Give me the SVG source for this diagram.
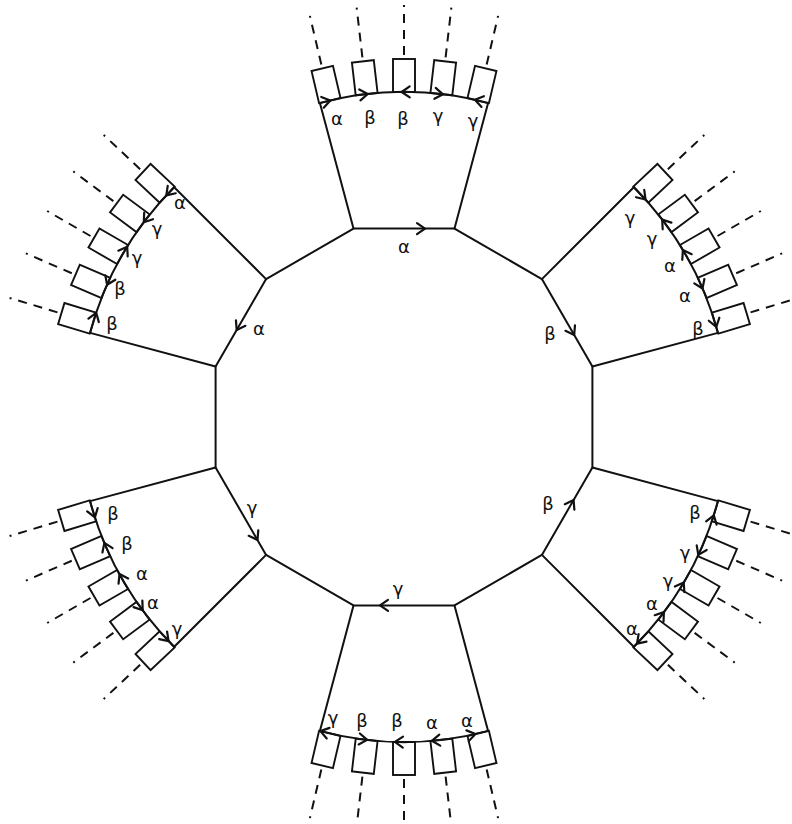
<svg xmlns="http://www.w3.org/2000/svg" xmlns:xlink="http://www.w3.org/1999/xlink" width="792" height="824" viewBox="0 0 792 824">
<style>
.ln{fill:none;stroke:#111;stroke-width:2;stroke-linecap:round;stroke-linejoin:round}
.rc{fill:#fff;stroke:#111;stroke-width:1.9}
.ds{stroke:#111;stroke-width:2;stroke-dasharray:9 7}
.ah{fill:none;stroke:#111;stroke-width:2.2;stroke-linecap:round;stroke-linejoin:round}
.lb{font-family:"DejaVu Sans",sans-serif;font-size:18px;fill:#111;text-anchor:middle;dominant-baseline:central}
</style>
<defs>
<path id="ah" class="ah" d="M-8,-5.5 L0,0 L-8,5.5"/>
</defs>
<rect width="792" height="824" fill="#fff"/>

<g id="polygon">
<polygon class="ln" points="353.5,228.6 454.5,228.6 541.9,279.1 592.4,366.5 592.4,467.5 541.9,554.9 454.5,605.4 353.5,605.4 266.1,554.9 215.6,467.5 215.6,366.5 266.1,279.1"/>
<use href="#ah" transform="translate(425 228.6) rotate(0)"/>
<use href="#ah" transform="translate(574.2 335) rotate(60)"/>
<use href="#ah" transform="translate(573.6 500) rotate(-60)"/>
<use href="#ah" transform="translate(380 605.4) rotate(180)"/>
<use href="#ah" transform="translate(257.5 540) rotate(60)"/>
<use href="#ah" transform="translate(236.7 330) rotate(120)"/>
<text class="lb" x="404" y="246">α</text>
<text class="lb" x="550" y="333">β</text>
<text class="lb" x="548" y="503">β</text>
<text class="lb" x="398" y="588">γ</text>
<text class="lb" x="252" y="507">γ</text>
<text class="lb" x="259" y="328">α</text>
</g>

<g id="flap-top">
<path class="ln" d="M353.5,228.6 L319.9,103.1 M454.5,228.6 L488.1,103.1"/>
<g transform="translate(404 417)">
<g transform="rotate(-103.2)"><rect class="rc" x="325" y="-11" width="33" height="22"/><line class="ds" x1="362" y1="0" x2="412" y2="0"/></g>
<g transform="rotate(-96.6)"><rect class="rc" x="325" y="-11" width="33" height="22"/><line class="ds" x1="362" y1="0" x2="412" y2="0"/></g>
<g transform="rotate(-90)"><rect class="rc" x="325" y="-11" width="33" height="22"/><line class="ds" x1="362" y1="0" x2="412" y2="0"/></g>
<g transform="rotate(-83.4)"><rect class="rc" x="325" y="-11" width="33" height="22"/><line class="ds" x1="362" y1="0" x2="412" y2="0"/></g>
<g transform="rotate(-76.8)"><rect class="rc" x="325" y="-11" width="33" height="22"/><line class="ds" x1="362" y1="0" x2="412" y2="0"/></g>
</g>
<path class="ln" d="M319.9,103.1 A325,325 0 0 1 488.1,103.1"/>
<use href="#ah" transform="translate(330.3 100.5) rotate(-13.1)"/>
<use href="#ah" transform="translate(367.8 94) rotate(-6.4)"/>
<use href="#ah" transform="translate(401.7 92) rotate(179.6)"/>
<use href="#ah" transform="translate(443 94.3) rotate(6.9)"/>
<use href="#ah" transform="translate(474.9 99.8) rotate(192.6)"/>
<text class="lb" x="337" y="118">α</text>
<text class="lb" x="370" y="117">β</text>
<text class="lb" x="403" y="118">β</text>
<text class="lb" x="438" y="115">γ</text>
<text class="lb" x="473" y="120">γ</text>
</g>

<g id="flap-upper-right">
<path class="ln" d="M541.9,279.1 L633.8,187.2 M592.4,366.5 L717.9,332.9"/>
<g transform="translate(404 417)">
<g transform="rotate(-43.2)"><rect class="rc" x="325" y="-11" width="33" height="22"/><line class="ds" x1="362" y1="0" x2="412" y2="0"/></g>
<g transform="rotate(-36.6)"><rect class="rc" x="325" y="-11" width="33" height="22"/><line class="ds" x1="362" y1="0" x2="412" y2="0"/></g>
<g transform="rotate(-30)"><rect class="rc" x="325" y="-11" width="33" height="22"/><line class="ds" x1="362" y1="0" x2="412" y2="0"/></g>
<g transform="rotate(-23.4)"><rect class="rc" x="325" y="-11" width="33" height="22"/><line class="ds" x1="362" y1="0" x2="412" y2="0"/></g>
<g transform="rotate(-16.8)"><rect class="rc" x="325" y="-11" width="33" height="22"/><line class="ds" x1="362" y1="0" x2="412" y2="0"/></g>
</g>
<path class="ln" d="M633.8,187.2 A325,325 0 0 1 717.9,332.9"/>
<use href="#ah" transform="translate(645.5 199.5) rotate(48)"/>
<use href="#ah" transform="translate(662.2 219.6) rotate(-127.4)"/>
<use href="#ah" transform="translate(682.9 250.1) rotate(-120.9)"/>
<use href="#ah" transform="translate(702.5 288.5) rotate(66.7)"/>
<use href="#ah" transform="translate(716.3 326.9) rotate(73.9)"/>
<text class="lb" x="630" y="217">γ</text>
<text class="lb" x="652" y="238">γ</text>
<text class="lb" x="670" y="265">α</text>
<text class="lb" x="685" y="295">α</text>
<text class="lb" x="698" y="328">β</text>
</g>

<g id="flap-lower-right">
<path class="ln" d="M592.4,467.5 L717.9,501.1 M541.9,554.9 L633.8,646.8"/>
<g transform="translate(404 417)">
<g transform="rotate(16.8)"><rect class="rc" x="325" y="-11" width="33" height="22"/><line class="ds" x1="362" y1="0" x2="412" y2="0"/></g>
<g transform="rotate(23.4)"><rect class="rc" x="325" y="-11" width="33" height="22"/><line class="ds" x1="362" y1="0" x2="412" y2="0"/></g>
<g transform="rotate(30)"><rect class="rc" x="325" y="-11" width="33" height="22"/><line class="ds" x1="362" y1="0" x2="412" y2="0"/></g>
<g transform="rotate(36.6)"><rect class="rc" x="325" y="-11" width="33" height="22"/><line class="ds" x1="362" y1="0" x2="412" y2="0"/></g>
<g transform="rotate(43.2)"><rect class="rc" x="325" y="-11" width="33" height="22"/><line class="ds" x1="362" y1="0" x2="412" y2="0"/></g>
</g>
<path class="ln" d="M717.9,501.1 A325,325 0 0 1 633.8,646.8"/>
<use href="#ah" transform="translate(713.8 515.3) rotate(-72.4)"/>
<use href="#ah" transform="translate(698.3 554.9) rotate(115.1)"/>
<use href="#ah" transform="translate(683.7 582.4) rotate(-59.4)"/>
<use href="#ah" transform="translate(663.9 612.1) rotate(-53.1)"/>
<use href="#ah" transform="translate(637 643.6) rotate(134.2)"/>
<text class="lb" x="695" y="512">β</text>
<text class="lb" x="685" y="552">γ</text>
<text class="lb" x="668" y="580">γ</text>
<text class="lb" x="652" y="603">α</text>
<text class="lb" x="632" y="628">α</text>
</g>

<g id="flap-bottom">
<path class="ln" d="M454.5,605.4 L488.1,730.9 M353.5,605.4 L319.9,730.9"/>
<g transform="translate(404 417)">
<g transform="rotate(76.8)"><rect class="rc" x="325" y="-11" width="33" height="22"/><line class="ds" x1="362" y1="0" x2="412" y2="0"/></g>
<g transform="rotate(83.4)"><rect class="rc" x="325" y="-11" width="33" height="22"/><line class="ds" x1="362" y1="0" x2="412" y2="0"/></g>
<g transform="rotate(90)"><rect class="rc" x="325" y="-11" width="33" height="22"/><line class="ds" x1="362" y1="0" x2="412" y2="0"/></g>
<g transform="rotate(96.6)"><rect class="rc" x="325" y="-11" width="33" height="22"/><line class="ds" x1="362" y1="0" x2="412" y2="0"/></g>
<g transform="rotate(103.2)"><rect class="rc" x="325" y="-11" width="33" height="22"/><line class="ds" x1="362" y1="0" x2="412" y2="0"/></g>
</g>
<path class="ln" d="M488.1,730.9 A325,325 0 0 1 319.9,730.9"/>
<use href="#ah" transform="translate(320.4 731.1) rotate(194.9)"/>
<use href="#ah" transform="translate(367.2 739.9) rotate(6.5)"/>
<use href="#ah" transform="translate(394.9 741.9) rotate(181.6)"/>
<use href="#ah" transform="translate(431.8 740.8) rotate(175.1)"/>
<use href="#ah" transform="translate(475.4 734) rotate(-12.7)"/>
<text class="lb" x="333" y="717">γ</text>
<text class="lb" x="362" y="720">β</text>
<text class="lb" x="397" y="720">β</text>
<text class="lb" x="432" y="722">α</text>
<text class="lb" x="467" y="720">α</text>
</g>

<g id="flap-lower-left">
<path class="ln" d="M266.1,554.9 L174.2,646.8 M215.6,467.5 L90.1,501.1"/>
<g transform="translate(404 417)">
<g transform="rotate(136.8)"><rect class="rc" x="325" y="-11" width="33" height="22"/><line class="ds" x1="362" y1="0" x2="412" y2="0"/></g>
<g transform="rotate(143.4)"><rect class="rc" x="325" y="-11" width="33" height="22"/><line class="ds" x1="362" y1="0" x2="412" y2="0"/></g>
<g transform="rotate(150)"><rect class="rc" x="325" y="-11" width="33" height="22"/><line class="ds" x1="362" y1="0" x2="412" y2="0"/></g>
<g transform="rotate(156.6)"><rect class="rc" x="325" y="-11" width="33" height="22"/><line class="ds" x1="362" y1="0" x2="412" y2="0"/></g>
<g transform="rotate(163.2)"><rect class="rc" x="325" y="-11" width="33" height="22"/><line class="ds" x1="362" y1="0" x2="412" y2="0"/></g>
</g>
<path class="ln" d="M174.2,646.8 A325,325 0 0 1 90.1,501.1"/>
<use href="#ah" transform="translate(94.9 517.4) rotate(72)"/>
<use href="#ah" transform="translate(104.4 542.9) rotate(247.2)"/>
<use href="#ah" transform="translate(119.5 574.1) rotate(241.1)"/>
<use href="#ah" transform="translate(142.7 610.3) rotate(53.5)"/>
<use href="#ah" transform="translate(168.6 641.1) rotate(46.4)"/>
<text class="lb" x="113" y="513">β</text>
<text class="lb" x="127" y="543">β</text>
<text class="lb" x="142" y="573">α</text>
<text class="lb" x="153" y="602">α</text>
<text class="lb" x="177" y="628">γ</text>
</g>

<g id="flap-upper-left">
<path class="ln" d="M215.6,366.5 L90.1,332.9 M266.1,279.1 L174.2,187.2"/>
<g transform="translate(404 417)">
<g transform="rotate(196.8)"><rect class="rc" x="325" y="-11" width="33" height="22"/><line class="ds" x1="362" y1="0" x2="412" y2="0"/></g>
<g transform="rotate(203.4)"><rect class="rc" x="325" y="-11" width="33" height="22"/><line class="ds" x1="362" y1="0" x2="412" y2="0"/></g>
<g transform="rotate(210)"><rect class="rc" x="325" y="-11" width="33" height="22"/><line class="ds" x1="362" y1="0" x2="412" y2="0"/></g>
<g transform="rotate(216.6)"><rect class="rc" x="325" y="-11" width="33" height="22"/><line class="ds" x1="362" y1="0" x2="412" y2="0"/></g>
<g transform="rotate(223.2)"><rect class="rc" x="325" y="-11" width="33" height="22"/><line class="ds" x1="362" y1="0" x2="412" y2="0"/></g>
</g>
<path class="ln" d="M90.1,332.9 A325,325 0 0 1 174.2,187.2"/>
<use href="#ah" transform="translate(166.3 195.4) rotate(133)"/>
<use href="#ah" transform="translate(143.8 222.3) rotate(126.8)"/>
<use href="#ah" transform="translate(127.2 246.7) rotate(301.6)"/>
<use href="#ah" transform="translate(107.1 284.8) rotate(114)"/>
<use href="#ah" transform="translate(96.2 312.8) rotate(288.7)"/>
<text class="lb" x="180" y="202">α</text>
<text class="lb" x="157" y="228">γ</text>
<text class="lb" x="137" y="257">γ</text>
<text class="lb" x="120" y="288">β</text>
<text class="lb" x="112" y="323">β</text>
</g>
</svg>
